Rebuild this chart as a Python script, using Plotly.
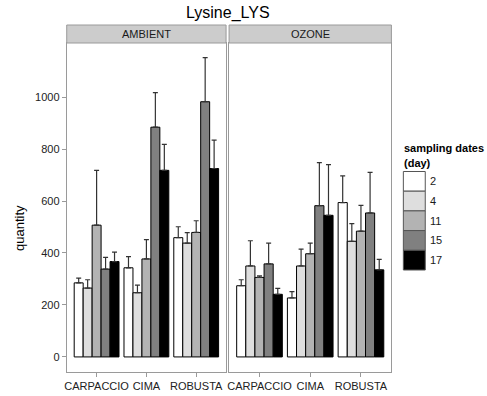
import plotly.graph_objects as go

varieties = ["CARPACCIO", "CIMA", "ROBUSTA"]
treatments = ["AMBIENT", "OZONE"]
days = ["2", "4", "11", "15", "17"]
day_colors = ["#ffffff", "#dedede", "#b3b3b3", "#808080", "#000000"]

# mean values [treatment][day][variety]
ambient_mean = {
    "2": [285, 343, 459],
    "4": [265, 247, 438],
    "11": [507, 377, 479],
    "15": [338, 884, 982],
    "17": [367, 718, 725],
}
ambient_upper = {
    "2": [303, 386, 501],
    "4": [297, 276, 478],
    "11": [718, 451, 524],
    "15": [383, 1017, 1152],
    "17": [403, 818, 834],
}
ozone_mean = {
    "2": [274, 227, 594],
    "4": [350, 350, 445],
    "11": [306, 397, 484],
    "15": [358, 582, 554],
    "17": [241, 545, 335],
}
ozone_upper = {
    "2": [297, 251, 697],
    "4": [447, 415, 513],
    "11": [312, 438, 583],
    "15": [438, 748, 710],
    "17": [264, 740, 375],
}

W, H = 487, 396
FONT = "Liberation Sans, Arial, sans-serif"

def px_x(x):
    return x / W

def px_y(y):
    return 1 - y / H

panels = [(65, 225), (228, 391)]
panel_top, panel_bottom = 43, 372
strip_top = 25

fig = go.Figure()
data = [(ambient_mean, ambient_upper), (ozone_mean, ozone_upper)]
for pi, (means, uppers) in enumerate(data):
    xa = "x" if pi == 0 else "x2"
    ya = "y" if pi == 0 else "y2"
    for di, d in enumerate(days):
        m = means[d]
        u = uppers[d]
        fig.add_trace(go.Bar(
            x=varieties, y=m, name=d, xaxis=xa, yaxis=ya,
            marker=dict(color=day_colors[di], line=dict(color="#000000", width=1)),
            error_y=dict(type="data", symmetric=False,
                         array=[uu - mm for uu, mm in zip(u, m)],
                         arrayminus=[0] * len(m),
                         color="#333333", thickness=1.2, width=2.5),
            showlegend=False,
        ))

yr = [-58, 1208]
axis_common = dict(showgrid=False, zeroline=False, showline=True, mirror=True,
                   linecolor="#9a9a9a", linewidth=1)
fig.update_layout(
    width=W, height=H,
    margin=dict(l=0, r=0, t=0, b=0),
    paper_bgcolor="white", plot_bgcolor="white",
    barmode="group", bargap=0.1, bargroupgap=0,
    font=dict(family=FONT, size=11, color="#000000"),
    xaxis=dict(domain=[px_x(panels[0][0]), px_x(panels[0][1])], anchor="y",
               range=[-0.6, 2.6], ticks="outside", ticklen=4, tickcolor="#9a9a9a",
               tickfont=dict(size=11, color="#222222"), **axis_common),
    xaxis2=dict(domain=[px_x(panels[1][0]), px_x(panels[1][1])], anchor="y2",
                range=[-0.6, 2.6], ticks="outside", ticklen=4, tickcolor="#9a9a9a",
                tickfont=dict(size=11, color="#222222"), **axis_common),
    yaxis=dict(domain=[px_y(panel_bottom), px_y(panel_top)], anchor="x",
               range=yr, tickvals=[0, 200, 400, 600, 800, 1000],
               ticks="outside", ticklen=4, tickcolor="#9a9a9a",
               tickfont=dict(size=11, color="#222222"),
               **axis_common),
    yaxis2=dict(domain=[px_y(panel_bottom), px_y(panel_top)], anchor="x2",
                range=yr, showticklabels=False, ticks="", **axis_common),
)

shapes = []
annotations = []
# strips
for (x0, x1), t in zip(panels, treatments):
    shapes.append(dict(type="rect", xref="paper", yref="paper",
                       x0=px_x(x0), x1=px_x(x1), y0=px_y(panel_top), y1=px_y(strip_top),
                       fillcolor="#cccccc", line=dict(color="#9a9a9a", width=1)))
    annotations.append(dict(text=t, xref="paper", yref="paper",
                            x=px_x((x0 + x1) / 2), y=px_y((strip_top + panel_top) / 2),
                            showarrow=False, font=dict(size=11, color="#1a1a1a"),
                            xanchor="center", yanchor="middle"))

# title
annotations.append(dict(text="Lysine_LYS", xref="paper", yref="paper",
                        x=px_x(227), y=px_y(13), showarrow=False,
                        font=dict(size=16, color="#000000"),
                        xanchor="center", yanchor="middle"))
# y-axis title
annotations.append(dict(text="quantity", xref="paper", yref="paper",
                        x=px_x(17), y=px_y(228), showarrow=False, textangle=-90,
                        font=dict(size=13, color="#000000"),
                        xanchor="center", yanchor="middle"))

# legend
annotations.append(dict(text="<b>sampling dates</b>", xref="paper", yref="paper",
                        x=px_x(402), y=px_y(148), showarrow=False,
                        font=dict(size=11), xanchor="left", yanchor="middle"))
annotations.append(dict(text="<b>(day)</b>", xref="paper", yref="paper",
                        x=px_x(402), y=px_y(163), showarrow=False,
                        font=dict(size=11), xanchor="left", yanchor="middle"))
ky0, kh = 171.5, 19.7
for i, (d, c) in enumerate(zip(days, day_colors)):
    y0 = ky0 + i * kh
    shapes.append(dict(type="rect", xref="paper", yref="paper",
                       x0=px_x(403), x1=px_x(425), y0=px_y(y0 + kh), y1=px_y(y0),
                       fillcolor=c, line=dict(color="#555555", width=1)))
    annotations.append(dict(text=d, xref="paper", yref="paper",
                            x=px_x(428), y=px_y(y0 + kh / 2), showarrow=False,
                            font=dict(size=11, color="#1a1a1a"),
                            xanchor="left", yanchor="middle"))

fig.update_layout(shapes=shapes, annotations=annotations)
fig.write_html("out.html", config={"displayModeBar": False},
               post_script="document.body.style.margin='0';document.body.style.overflow='hidden';")
